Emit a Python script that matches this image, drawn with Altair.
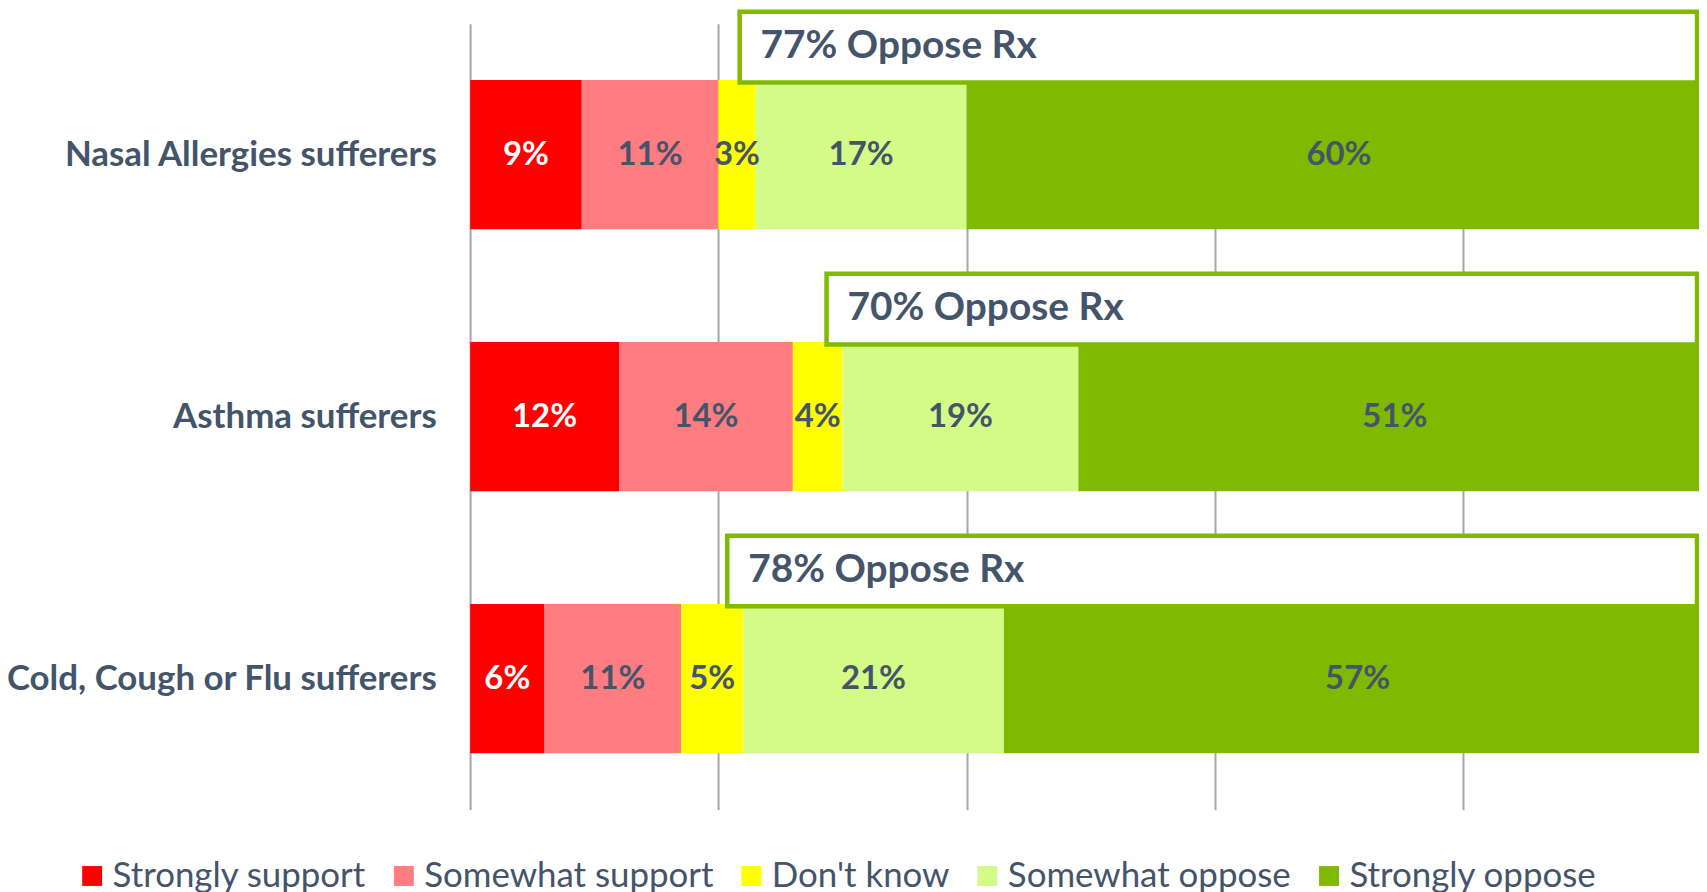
import altair as alt
import pandas as pd

categories = ["Nasal Allergies sufferers", "Asthma sufferers", "Cold, Cough or Flu sufferers"]
responses = ["Strongly support", "Somewhat support", "Don't know", "Somewhat oppose", "Strongly oppose"]
colors = ["#FF0000", "#FF7C80", "#FFFF00", "#D4FA87", "#7FBA00"]
label_colors = ["#FFFFFF", "#44546A", "#44546A", "#44546A", "#44546A"]

strongly_support = [9, 12, 6]
somewhat_support = [11, 14, 11]
dont_know = [3, 4, 5]
somewhat_oppose = [17, 19, 21]
strongly_oppose = [60, 51, 57]

series = [strongly_support, somewhat_support, dont_know, somewhat_oppose, strongly_oppose]

rows = []
for ci, cat in enumerate(categories):
    cum = 0
    for ri, resp in enumerate(responses):
        v = series[ri][ci]
        rows.append({
            "cat": cat, "resp": resp, "value": v,
            "start": cum / 100, "end": (cum + v) / 100, "mid": (cum + v / 2) / 100,
            "label": f"{v}%", "tc": label_colors[ri],
        })
        cum += v
df = pd.DataFrame(rows)

box_rows = []
for ci, cat in enumerate(categories):
    opp_start = (strongly_support[ci] + somewhat_support[ci] + dont_know[ci]) / 100
    opp_total = somewhat_oppose[ci] + strongly_oppose[ci]
    box_rows.append({"cat": cat, "box_start": opp_start, "box_label": f"{opp_total}% Oppose Rx"})
bdf = pd.DataFrame(box_rows)

XMAX = 0.99
TEXT = "#44546A"
GREEN = "#7FBA00"

xscale = alt.Scale(domain=[0, XMAX], nice=False, zero=True)
xaxis = alt.Axis(values=[0, 0.2, 0.4, 0.6, 0.8], labels=False, ticks=False,
                 domain=False, grid=True, gridColor="#A6A6A6", gridWidth=2, title=None)
yscale = alt.Scale(paddingInner=0.43, paddingOuter=0.215)
yaxis = alt.Axis(labelFont="Lato", labelFontWeight="bold", labelFontSize=35,
                 labelColor=TEXT, ticks=False, domain=False, labelPadding=34,
                 labelLimit=0, grid=False, title=None)


def X(field):
    return alt.X(field, title=None, scale=xscale, axis=xaxis)


def Y():
    return alt.Y("cat:N", sort=categories, title=None, scale=yscale, axis=yaxis)


bars = alt.Chart(df).mark_bar(clip=True).encode(
    x=X("start:Q"),
    x2="end:Q",
    y=Y(),
    color=alt.Color("resp:N", sort=responses,
                    scale=alt.Scale(domain=responses, range=colors),
                    legend=alt.Legend(title=None, orient="none", legendX=-397, legendY=838,
                                      direction="horizontal", columns=5, symbolType="square",
                                      symbolSize=400, symbolStrokeWidth=0, labelFont="Lato",
                                      labelFontSize=35, labelColor=TEXT, labelOffset=3,
                                      labelLimit=0, columnPadding=20, padding=0)),
)

bar_labels = alt.Chart(df).mark_text(
    font="Lato", fontWeight="bold", fontSize=33, baseline="middle", align="center", clip=True
).encode(
    x=X("mid:Q"),
    y=Y(),
    text="label:N",
    color=alt.Color("tc:N", scale=None),
)

boxes = alt.Chart(bdf).mark_bar(
    height=71, yOffset=-108, xOffset=-16, x2Offset=-2,
    fill="white", stroke=GREEN, strokeWidth=4.5
).encode(
    x=X("box_start:Q"),
    x2=alt.datum(XMAX),
    y=Y(),
)

box_text = alt.Chart(bdf).mark_text(
    font="Lato", fontWeight="bold", fontSize=39, align="left", baseline="middle",
    xOffset=5, yOffset=-109, color=TEXT
).encode(
    x=X("box_start:Q"),
    y=Y(),
    text="box_label:N",
)

chart = alt.layer(bars, bar_labels, boxes, box_text).properties(
    width=1234, height=789,
    autosize=alt.AutoSizeParams(type="none"),
    padding={"left": 464, "top": 14, "right": 0, "bottom": 84},
).configure_view(stroke=None)

chart.save("out.html", embed_options={"renderer": "svg", "actions": False})
